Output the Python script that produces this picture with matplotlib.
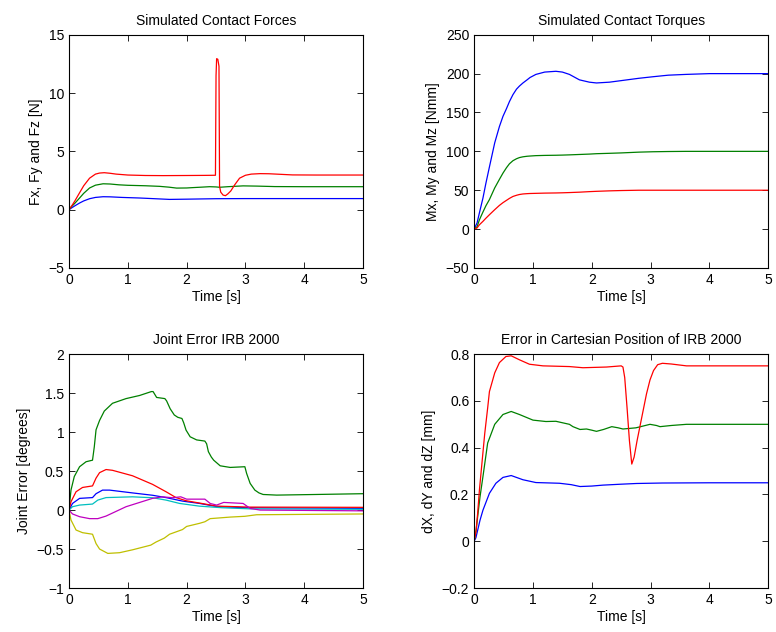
import matplotlib
matplotlib.use("Agg")
import matplotlib.pyplot as plt

plt.rcParams['font.family'] = ['Liberation Sans', 'DejaVu Sans']
plt.rcParams['font.size'] = 10

# matlab default colours
C_B = (0, 0, 1)
C_G = (0, 0.5, 0)
C_R = (1, 0, 0)
C_C = (0, 0.75, 0.75)
C_M = (0.75, 0, 0.75)
C_Y = (0.75, 0.75, 0)

# --- simulated contact forces [N]
force_red_t = [0, 0.05, 0.1, 0.18, 0.25, 0.35, 0.45, 0.52, 0.6, 0.7,
               0.8, 1.0, 1.3, 1.6, 2.0, 2.3, 2.49, 2.50, 2.51, 2.53,
               2.55, 2.56, 2.58, 2.62, 2.66, 2.70, 2.75, 2.82, 2.9, 3.0,
               3.1, 3.25, 3.4, 3.6, 3.8, 4.2, 5.0]
force_red = [0, 0.35, 0.75, 1.45, 2.05, 2.7, 3.05, 3.14, 3.17, 3.12,
             3.05, 2.97, 2.93, 2.92, 2.93, 2.94, 2.95, 11.5, 12.95, 12.9,
             12.3, 2.0, 1.5, 1.25, 1.2, 1.35, 1.6, 2.15, 2.7, 2.95,
             3.05, 3.09, 3.08, 3.03, 2.98, 2.97, 2.97]
force_green_t = [0, 0.05, 0.1, 0.18, 0.25, 0.35, 0.45, 0.58, 0.7, 0.85,
                 1.0, 1.3, 1.54, 1.7, 1.83, 2.0, 2.1, 2.25, 2.39, 2.5,
                 2.56, 2.7, 2.96, 3.2, 3.5, 4.0, 5.0]
force_green = [0, 0.3, 0.55, 1.0, 1.4, 1.86, 2.1, 2.22, 2.2, 2.13,
               2.09, 2.05, 2.0, 1.93, 1.85, 1.86, 1.89, 1.93, 1.97, 1.95,
               1.92, 1.97, 2.04, 2.02, 1.98, 1.97, 1.97]
force_blue_t = [0, 0.05, 0.1, 0.18, 0.25, 0.35, 0.45, 0.58, 0.7, 0.9,
                1.2, 1.5, 1.71, 2.0, 2.5, 3.0, 4.0, 5.0]
force_blue = [0, 0.17, 0.33, 0.57, 0.75, 0.94, 1.05, 1.11, 1.1, 1.05,
              1.0, 0.93, 0.88, 0.9, 0.94, 0.95, 0.95, 0.95]

# --- simulated contact torques [Nmm]
torque_t = [0, 0.05, 0.09, 0.15, 0.2, 0.26, 0.35, 0.43, 0.49, 0.55,
            0.6, 0.66, 0.72, 0.77, 0.83, 0.9, 0.95, 1.05, 1.2, 1.39,
            1.5, 1.62, 1.79, 1.96, 2.08, 2.3, 2.5, 2.8, 3.04, 3.3,
            3.6, 4.0, 4.5, 5.0]
torque_blue = [0, 8, 21, 40, 59, 80, 111, 132, 145, 155,
               164, 173, 180, 184, 188, 192, 195, 199, 202, 203,
               202, 199, 192, 189, 188, 189, 191, 194, 196, 198,
               199, 200, 200, 200]
torque_green = [0, 3, 12, 22, 30, 38, 53, 64, 72, 79,
                84, 88, 90.5, 92, 93, 93.7, 94, 94.5, 94.8, 95,
                95.2, 95.5, 96, 96.5, 97, 97.5, 98, 99, 99.5, 99.8,
                100, 100, 100, 100]
torque_red = [0, 1.5, 5.6, 10, 14, 18.5, 25, 30.5, 34, 37,
              39.5, 42, 43.5, 44.5, 45.2, 45.6, 45.8, 46, 46.3, 46.5,
              46.7, 47, 47.5, 48.2, 48.6, 49.2, 49.6, 50, 50, 50,
              50, 50, 50, 50]

# --- joint error [degrees]
joint_green_t = [0, 0.034, 0.09, 0.18, 0.29, 0.4, 0.43, 0.46, 0.52, 0.6,
                 0.74, 0.97, 1.2, 1.4, 1.43, 1.49, 1.63, 1.66, 1.72, 1.79,
                 1.85, 1.92, 1.95, 1.99, 2.06, 2.17, 2.31, 2.34, 2.37, 2.42,
                 2.46, 2.57, 2.74, 2.99, 3.02, 3.08, 3.16, 3.23, 3.3, 3.53,
                 4.2, 5.0]
joint_green = [0, 0.256, 0.43, 0.556, 0.62, 0.64, 0.81, 1.03, 1.15, 1.27,
               1.37, 1.43, 1.47, 1.52, 1.52, 1.445, 1.43, 1.40, 1.30, 1.22,
               1.19, 1.175, 1.12, 1.026, 0.94, 0.9, 0.885, 0.85, 0.749, 0.68,
               0.64, 0.568, 0.547, 0.556, 0.47, 0.342, 0.256, 0.22, 0.2, 0.192,
               0.2, 0.21]
joint_red_t = [0, 0.034, 0.12, 0.23, 0.4, 0.43, 0.46, 0.52, 0.63, 0.74,
               1.08, 1.42, 1.65, 1.82, 1.99, 2.22, 2.51, 3.08, 5.0]
joint_red = [0, 0.107, 0.235, 0.29, 0.31, 0.36, 0.41, 0.48, 0.52, 0.51,
             0.44, 0.33, 0.235, 0.16, 0.12, 0.09, 0.051, 0.038, 0.035]
joint_blue_t = [0, 0.06, 0.18, 0.4, 0.46, 0.57, 0.69, 1.08, 1.42, 1.65,
                1.93, 2.22, 2.51, 3.0, 5.0]
joint_blue = [0, 0.085, 0.15, 0.16, 0.21, 0.256, 0.256, 0.22, 0.19, 0.16,
              0.115, 0.085, 0.045, 0.03, 0.022]
joint_cyan_t = [0, 0.06, 0.18, 0.4, 0.49, 0.63, 1.08, 1.42, 1.65, 1.88,
                2.22, 2.6, 3.1, 5.0]
joint_cyan = [0, 0.043, 0.064, 0.077, 0.128, 0.16, 0.17, 0.158, 0.128, 0.085,
              0.05, 0.03, 0.015, 0.01]
joint_mag_t = [0, 0.06, 0.18, 0.35, 0.49, 0.63, 0.97, 1.42, 1.59, 1.76,
               1.9, 2.0, 2.31, 2.4, 2.51, 2.63, 2.96, 3.08, 3.25, 5.0]
joint_mag = [0, -0.05, -0.085, -0.11, -0.11, -0.077, 0.043, 0.15, 0.17, 0.158,
             0.17, 0.14, 0.14, 0.085, 0.064, 0.098, 0.085, 0.021, 0.0, -0.01]
joint_yel_t = [0, 0.034, 0.12, 0.23, 0.4, 0.46, 0.52, 0.66, 0.86, 1.08,
               1.39, 1.48, 1.62, 1.71, 1.82, 1.93, 2.0, 2.22, 2.31, 2.4,
               2.74, 2.99, 3.19, 5.0]
joint_yel = [0, -0.128, -0.256, -0.29, -0.31, -0.43, -0.5, -0.556, -0.547, -0.51,
             -0.45, -0.41, -0.36, -0.31, -0.28, -0.25, -0.21, -0.17, -0.15, -0.11,
             -0.09, -0.08, -0.06, -0.05]

# --- cartesian position error [mm]
cart_red_t = [0, 0.034, 0.06, 0.09, 0.15, 0.18, 0.23, 0.26, 0.35, 0.43,
              0.54, 0.63, 0.77, 0.94, 1.17, 1.62, 1.85, 2.25, 2.5, 2.53,
              2.56, 2.6, 2.64, 2.68, 2.72, 2.77, 2.85, 2.93, 2.99, 3.05,
              3.12, 3.2, 3.35, 3.61, 4.0, 5.0]
cart_red = [0, 0.047, 0.12, 0.22, 0.38, 0.46, 0.57, 0.64, 0.72, 0.764,
            0.79, 0.793, 0.776, 0.757, 0.75, 0.747, 0.742, 0.745, 0.75, 0.745,
            0.7, 0.57, 0.43, 0.33, 0.36, 0.43, 0.53, 0.63, 0.69, 0.73,
            0.755, 0.761, 0.758, 0.75, 0.75, 0.75]
cart_green_t = [0, 0.03, 0.06, 0.1, 0.15, 0.23, 0.35, 0.49, 0.63, 0.77,
                1.0, 1.22, 1.39, 1.62, 1.68, 1.8, 1.91, 2.0, 2.08, 2.2,
                2.34, 2.45, 2.53, 2.75, 2.99, 3.1, 3.16, 3.35, 3.61, 4.0, 5.0]
cart_green = [0, 0.04, 0.105, 0.19, 0.277, 0.42, 0.5, 0.542, 0.555, 0.542,
              0.518, 0.512, 0.513, 0.5, 0.49, 0.478, 0.48, 0.475, 0.47, 0.478,
              0.49, 0.485, 0.48, 0.485, 0.5, 0.495, 0.49, 0.495, 0.5, 0.5, 0.5]
cart_blue_t = [0, 0.03, 0.06, 0.1, 0.15, 0.26, 0.37, 0.49, 0.63, 0.83,
               1.05, 1.45, 1.65, 1.8, 2.0, 2.19, 2.5, 2.76, 3.2, 4.0, 5.0]
cart_blue = [0, 0.015, 0.047, 0.09, 0.133, 0.205, 0.248, 0.273, 0.281, 0.263,
             0.251, 0.248, 0.242, 0.234, 0.236, 0.24, 0.244, 0.247, 0.249, 0.25, 0.25]


def style(ax, title, ylabel, ylim, yticks, ticklabels):
    ax.set_xlim(0, 5)
    ax.set_ylim(*ylim)
    ax.set_xticks([0, 1, 2, 3, 4, 5])
    ax.set_yticks(yticks)
    ax.set_yticklabels(ticklabels)
    ax.tick_params(direction='in', top=True, right=True, length=4, width=0.6)
    for s in ax.spines.values():
        s.set_linewidth(0.8)
    ax.set_title(title, fontsize=10, pad=7)
    ax.set_xlabel('Time [s]', labelpad=2)
    ax.set_ylabel(ylabel, labelpad=4)


fig = plt.figure(figsize=(7.76, 6.32), dpi=100)
lw = 0.9

ax1 = fig.add_axes([0.0889, 0.576, 0.379, 0.369])
ax1.plot(force_blue_t, force_blue, color=C_B, lw=lw)
ax1.plot(force_green_t, force_green, color=C_G, lw=lw)
ax1.plot(force_red_t, force_red, color=C_R, lw=lw)
style(ax1, 'Simulated Contact Forces', 'Fx, Fy and Fz [N]', (-5, 15),
      [-5, 0, 5, 10, 15], ['\u22125', '0', '5', '10', '15'])

ax2 = fig.add_axes([0.611, 0.576, 0.379, 0.369])
ax2.plot(torque_t, torque_blue, color=C_B, lw=lw)
ax2.plot(torque_t, torque_green, color=C_G, lw=lw)
ax2.plot(torque_t, torque_red, color=C_R, lw=lw)
style(ax2, 'Simulated Contact Torques', 'Mx, My and Mz [Nmm]', (-50, 250),
      [-50, 0, 50, 100, 150, 200, 250],
      ['\u221250', '0', '50', '100', '150', '200', '250'])

ax3 = fig.add_axes([0.0889, 0.0696, 0.379, 0.370])
ax3.plot(joint_blue_t, joint_blue, color=C_B, lw=lw)
ax3.plot(joint_green_t, joint_green, color=C_G, lw=lw)
ax3.plot(joint_red_t, joint_red, color=C_R, lw=lw)
ax3.plot(joint_cyan_t, joint_cyan, color=C_C, lw=lw)
ax3.plot(joint_mag_t, joint_mag, color=C_M, lw=lw)
ax3.plot(joint_yel_t, joint_yel, color=C_Y, lw=lw)
style(ax3, 'Joint Error IRB 2000', 'Joint Error [degrees]', (-1, 2),
      [-1, -0.5, 0, 0.5, 1, 1.5, 2],
      ['\u22121', '\u22120.5', '0', '0.5', '1', '1.5', '2'])

ax4 = fig.add_axes([0.611, 0.0696, 0.379, 0.370])
ax4.plot(cart_blue_t, cart_blue, color=C_B, lw=lw)
ax4.plot(cart_green_t, cart_green, color=C_G, lw=lw)
ax4.plot(cart_red_t, cart_red, color=C_R, lw=lw)
style(ax4, 'Error in Cartesian Position of IRB 2000', 'dX, dY and dZ [mm]', (-0.2, 0.8),
      [-0.2, 0, 0.2, 0.4, 0.6, 0.8],
      ['\u22120.2', '0', '0.2', '0.4', '0.6', '0.8'])

fig.savefig('out.png', dpi=100)
